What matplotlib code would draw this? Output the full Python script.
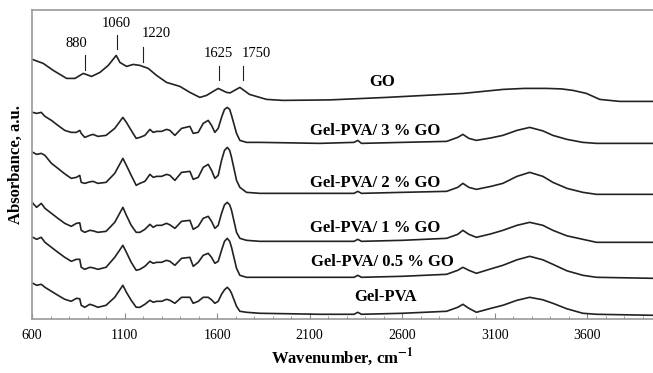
import matplotlib
matplotlib.use('Agg')
import matplotlib.pyplot as plt
from matplotlib.ticker import MultipleLocator

# wavenumber grid (cm-1) shared by the Gel-PVA spectra
wn = [605, 625, 650, 670, 705, 740, 777, 812, 840, 858,
      866, 885, 912, 930, 956, 1000, 1047, 1091, 1110, 1136,
      1163, 1183, 1210, 1237, 1255, 1273, 1300, 1327, 1345, 1372,
      1408, 1453, 1471, 1498, 1525, 1552, 1570, 1588, 1606, 1624,
      1640, 1655, 1668, 1678, 1705, 1723, 1759, 1831, 2000, 2155,
      2340, 2360, 2380, 2600, 2840, 2900, 2928, 2960, 3001, 3080,
      3144, 3220, 3289, 3360, 3414, 3490, 3576, 3650, 3955]

# stacked absorbance (a.u., offset)
go3 = [2.07, 2.06, 2.07, 2.03, 1.99, 1.94, 1.89, 1.87, 1.87, 1.89,
       1.86, 1.82, 1.84, 1.85, 1.83, 1.84, 1.91, 2.02, 1.97, 1.89,
       1.81, 1.82, 1.84, 1.90, 1.87, 1.88, 1.88, 1.90, 1.89, 1.84,
       1.91, 1.93, 1.86, 1.87, 1.96, 1.99, 1.94, 1.87, 1.91, 2.02,
       2.10, 2.12, 2.10, 2.04, 1.86, 1.79, 1.77, 1.77, 1.765, 1.76,
       1.77, 1.79, 1.76, 1.77, 1.78, 1.82, 1.85, 1.81, 1.79, 1.815,
       1.84, 1.89, 1.92, 1.885, 1.84, 1.80, 1.77, 1.76, 1.76]
go2 = [1.67, 1.65, 1.66, 1.64, 1.56, 1.51, 1.455, 1.41, 1.42, 1.44,
       1.37, 1.36, 1.375, 1.38, 1.36, 1.37, 1.46, 1.61, 1.54, 1.44,
       1.34, 1.36, 1.38, 1.45, 1.42, 1.43, 1.43, 1.45, 1.44, 1.39,
       1.47, 1.48, 1.40, 1.42, 1.52, 1.55, 1.49, 1.41, 1.44, 1.59,
       1.69, 1.72, 1.69, 1.62, 1.39, 1.32, 1.27, 1.26, 1.26, 1.26,
       1.26, 1.28, 1.26, 1.27, 1.28, 1.32, 1.36, 1.32, 1.30, 1.33,
       1.36, 1.43, 1.47, 1.43, 1.37, 1.31, 1.27, 1.25, 1.25]
go1 = [1.16, 1.12, 1.16, 1.11, 1.06, 1.01, 0.96, 0.93, 0.96, 0.965,
       0.89, 0.87, 0.89, 0.885, 0.87, 0.88, 0.97, 1.12, 1.04, 0.94,
       0.87, 0.87, 0.90, 0.95, 0.92, 0.94, 0.94, 0.96, 0.945, 0.91,
       0.98, 0.99, 0.90, 0.93, 1.01, 1.03, 0.98, 0.91, 0.94, 1.06,
       1.145, 1.17, 1.145, 1.09, 0.87, 0.81, 0.79, 0.78, 0.78, 0.78,
       0.78, 0.80, 0.78, 0.79, 0.81, 0.85, 0.89, 0.85, 0.82, 0.855,
       0.89, 0.94, 0.97, 0.94, 0.89, 0.835, 0.80, 0.77, 0.77]
go05 = [0.82, 0.80, 0.82, 0.77, 0.72, 0.67, 0.62, 0.58, 0.60, 0.60,
        0.52, 0.50, 0.52, 0.515, 0.50, 0.52, 0.62, 0.74, 0.67, 0.57,
        0.49, 0.50, 0.53, 0.58, 0.56, 0.57, 0.57, 0.59, 0.58, 0.54,
        0.61, 0.62, 0.53, 0.57, 0.64, 0.66, 0.62, 0.56, 0.58, 0.69,
        0.78, 0.81, 0.78, 0.72, 0.51, 0.44, 0.42, 0.42, 0.42, 0.42,
        0.42, 0.44, 0.42, 0.43, 0.45, 0.49, 0.52, 0.49, 0.46, 0.505,
        0.54, 0.595, 0.63, 0.595, 0.55, 0.485, 0.44, 0.42, 0.41]
gelpva = [0.36, 0.34, 0.35, 0.32, 0.28, 0.24, 0.20, 0.18, 0.21, 0.205,
          0.14, 0.12, 0.15, 0.14, 0.12, 0.14, 0.22, 0.34, 0.27, 0.19,
          0.12, 0.12, 0.15, 0.19, 0.17, 0.18, 0.18, 0.20, 0.19, 0.16,
          0.22, 0.22, 0.16, 0.18, 0.22, 0.22, 0.195, 0.16, 0.18, 0.25,
          0.295, 0.32, 0.295, 0.26, 0.13, 0.08, 0.07, 0.06, 0.055, 0.05,
          0.05, 0.07, 0.05, 0.06, 0.08, 0.12, 0.15, 0.11, 0.07, 0.11,
          0.14, 0.19, 0.22, 0.195, 0.16, 0.105, 0.06, 0.05, 0.04]

# GO spectrum on its own grid
go_wn = [602, 661, 715, 787, 832, 877, 922, 967, 1012, 1055,
         1075, 1111, 1147, 1183, 1228, 1273, 1327, 1399, 1453, 1507,
         1543, 1606, 1651, 1670, 1723, 1775, 1867, 1957, 2209, 2515,
         2929, 3145, 3260, 3379, 3460, 3523, 3595, 3667, 3775, 3955]
go = [2.60, 2.56, 2.49, 2.41, 2.41, 2.46, 2.43, 2.47, 2.54, 2.64,
      2.57, 2.53, 2.55, 2.54, 2.51, 2.44, 2.37, 2.33, 2.27, 2.22,
      2.24, 2.31, 2.27, 2.265, 2.32, 2.25, 2.20, 2.19, 2.195, 2.22,
      2.26, 2.30, 2.31, 2.31, 2.305, 2.29, 2.26, 2.20, 2.18, 2.18]

names = ['GO', 'Gel-PVA/ 3 % GO', 'Gel-PVA/ 2 % GO', 'Gel-PVA/ 1 % GO',
         'Gel-PVA/ 0.5 % GO', 'Gel-PVA']
name_x = [2494, 2456, 2456, 2456, 2492, 2512]
name_y = [2.37, 1.88, 1.36, 0.91, 0.57, 0.22]

peaks = ['880', '1060', '1220', '1625', '1750']
peak_line_x = [888, 1059, 1201, 1610, 1738]
peak_line_y0 = [2.49, 2.70, 2.57, 2.39, 2.39]
peak_line_y1 = [2.64, 2.84, 2.72, 2.53, 2.53]
peak_text_x = [838, 1057, 1273, 1606, 1813]
peak_text_y = [2.76, 2.96, 2.86, 2.66, 2.66]

xticks = [600, 1100, 1600, 2100, 2600, 3100, 3600]

plt.rcParams['font.family'] = ['Liberation Serif', 'DejaVu Serif']
plt.rcParams['mathtext.fontset'] = 'stix'

fig = plt.figure(figsize=(6.53, 3.73), dpi=100)
ax = fig.add_axes([0.049, 0.144, 0.951, 0.828])

lc = '#222222'
ax.plot(go_wn, go, color=lc, lw=1.2)
for y in [go3, go2, go1, go05, gelpva]:
    ax.plot(wn, y, color=lc, lw=1.2)

for n, x, y in zip(names, name_x, name_y):
    ax.text(x, y, n, ha='center', va='center', fontsize=12, fontweight='bold')

for p, lx, y0, y1, tx, ty in zip(peaks, peak_line_x, peak_line_y0, peak_line_y1,
                                 peak_text_x, peak_text_y):
    ax.plot([lx, lx], [y0, y1], color=lc, lw=0.8)
    ax.text(tx, ty, p, ha='center', va='center', fontsize=10.5)

ax.set_xlim(600, 3955)
ax.set_ylim(0, 3.09)
ax.set_xticks(xticks)
ax.xaxis.set_minor_locator(MultipleLocator(100))
ax.set_yticks([])
ax.tick_params(axis='x', which='major', direction='in', length=4, color='#888888',
               labelsize=10, pad=7)
ax.tick_params(axis='x', which='minor', direction='in', length=2.5, color='#888888')
for s in ['left', 'bottom', 'top']:
    ax.spines[s].set_color('#999999')
    ax.spines[s].set_linewidth(1.2)
ax.spines['right'].set_visible(False)

ax.set_xlabel(r'Wavenumber, cm$^{\mathbf{-1}}$', fontsize=12, fontweight='bold', labelpad=3)
ax.set_ylabel('Absorbance, a.u.', fontsize=12, fontweight='bold', labelpad=6)

fig.savefig('out.png', dpi=100)
